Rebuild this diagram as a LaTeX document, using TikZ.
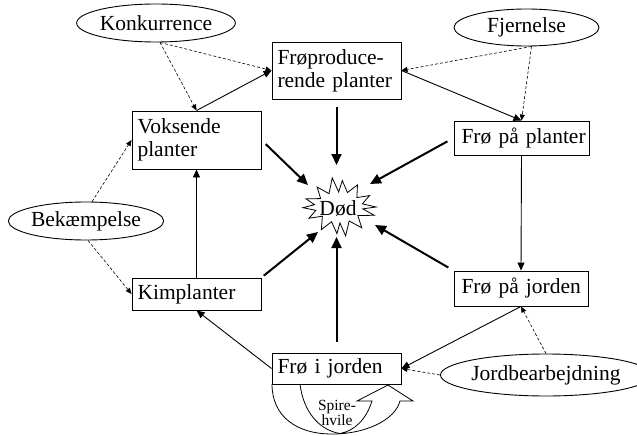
\documentclass[tikz,border=0pt]{standalone}
\usepackage{fontspec}
\setmainfont{Liberation Serif}
\usetikzlibrary{arrows.meta,shapes.geometric}
\begin{document}
\begin{tikzpicture}[x=1pt,y=-1pt,
  txt/.style={font=\fontsize{21.5}{23}\selectfont},
  box/.style={txt, draw, line width=0.9pt, rectangle, inner sep=0pt, align=left},
  oval/.style={txt, draw, ellipse, line width=0.9pt, inner sep=0pt},
  cyc/.style={line width=0.9pt, -{Triangle[length=8pt,width=7pt]}},
  die/.style={line width=2pt, -{Triangle[length=11pt,width=10pt]}},
  infl/.style={dash pattern=on 3pt off 2pt, line width=0.6pt, -{Triangle[length=6pt,width=5pt]}}]
\useasboundingbox (0,0) rectangle (637,436);

% boxes
\node[box, minimum width=129pt, minimum height=57pt, text width=118pt] (fp) at (336.5,70.5) {Frøproduce-\\rende planter};
\node[box, minimum width=129pt, minimum height=58pt, text width=118pt] (vp) at (196.5,140) {Voksende\\planter};
\node[box, minimum width=135pt, minimum height=34pt, text width=120pt] (fpl) at (521.5,138) {\mbox{Frø på planter}};
\node[box, minimum width=129pt, minimum height=32pt, text width=118pt] (kp) at (196.5,294) {Kimplanter};
\node[box, minimum width=134pt, minimum height=35pt, text width=119pt] (fpj) at (521,288.5) {\mbox{Frø på jorden}};
\node[box, minimum width=129pt, minimum height=31pt, text width=118pt] (fij) at (336.5,368.5) {\mbox{Frø i jorden}};

% ellipses
\node[oval, minimum width=146pt, minimum height=38pt] (kon) at (156,23) {Konkurrence};
\node[oval, minimum width=145pt, minimum height=37pt] (fje) at (526.5,27.5) {Fjernelse};
\node[oval, minimum width=146pt, minimum height=38pt] (bek) at (86,221) {Bekæmpelse};
\node[oval, minimum width=174pt, minimum height=42pt] (jord) at (546,375) {Jordbearbejdning};

% death
\node[txt, inner sep=0pt] (dod) at (338,208) {Død};
\draw[line width=0.8pt, line join=miter, shift={(339,207)}]
  (0:37pt and 24pt)
  \foreach \a/\rx/\ry in {13/24/14, 26/34/26, 39/23/15, 52/30/28, 65/20/16, 78/16/27, 91/19/15,
     104/28/30, 117/22/15, 130/34/26, 143/23/14, 156/36/20, 169/25/12, 182/36/20, 195/24/13,
     208/34/24, 221/22/14, 234/30/28, 247/19/16, 260/12/27, 273/18/16, 286/24/30, 299/21/16,
     312/34/28, 325/23/15, 338/38/22, 351/24/12} { -- (\a:\rx pt and \ry pt) } -- cycle;

\coordinate (dT) at (336.5,165);
\coordinate (dTL) at (308,185);
\coordinate (dTR) at (370,184);
\coordinate (dBL) at (318,232);
\coordinate (dB) at (336.5,237);
\coordinate (dBR) at (375,225);

% life cycle
\draw[cyc] (vp.north) -- (fp.west);
\draw[cyc] (fp.east) -- (fpl.north);
\draw[cyc] (fpl.south) -- (fpj.north);
\draw[cyc] (fpj.south) -- (fij.east);
\draw[cyc] (fij.west) -- (kp.south);
\draw[cyc] (kp.north) -- (vp.south);

% mortality
\draw[die, shorten <=8pt] (fp.south) -- (dT);
\draw[die, shorten <=6pt] (vp.east) -- (dTL);
\draw[die, shorten <=7pt] (fpl.west) -- (dTR);
\draw[die, shorten <=3pt] (kp.north east) -- (dBL);
\draw[die, shorten <=11pt] (fij.north) -- (dB);
\draw[die, shorten <=6pt] (fpj.north west) -- (dBR);

% influences
\draw[infl] ([xshift=4pt]kon.south) -- (vp.north);
\draw[infl] ([xshift=4pt]kon.south) -- (fp.west);
\draw[infl] ([xshift=5pt]fje.south) -- (fp.east);
\draw[infl] ([xshift=5pt]fje.south) -- (fpl.north);
\draw[infl] ([xshift=6pt]bek.north) -- (vp.west);
\draw[infl] ([xshift=2pt]bek.south) -- (kp.west);
\draw[infl] (jord.west) -- (fij.east);
\draw[infl] (jord.north) -- (fpj.south);

% spirehvile curved arrow
\draw[line width=0.8pt, line join=miter]
  (272,384) .. controls (272,416) and (296,434) .. (332,434)
  .. controls (366,434) and (395,420) .. (400,401)
  -- (413,401) -- (388,385) -- (357,401) -- (372,401)
  .. controls (366,420) and (354,431) .. (340,433.5);
\draw[line width=0.8pt] (300,384) .. controls (303,410) and (318,430) .. (340,433.5);
\node[font=\fontsize{15.5}{14}\selectfont, align=center, inner sep=0pt] (sh) at (337,413) {Spire-\\hvile};
\end{tikzpicture}
\end{document}
